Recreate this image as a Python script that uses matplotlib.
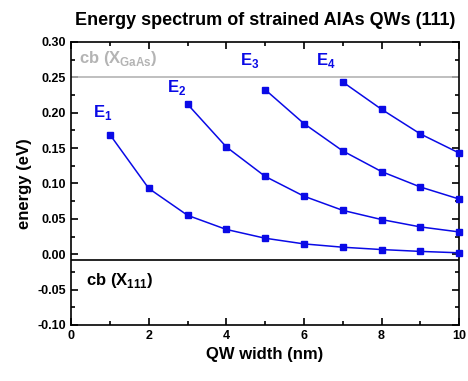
import matplotlib
matplotlib.use("Agg")
from matplotlib import pyplot as plt
from matplotlib.ticker import MultipleLocator

plt.rcParams['font.family'] = ['Liberation Sans', 'DejaVu Sans']
plt.rcParams['font.weight'] = 'bold'
plt.rcParams['mathtext.fontset'] = 'custom'
plt.rcParams['mathtext.rm'] = 'Liberation Sans:bold'
plt.rcParams['mathtext.bf'] = 'Liberation Sans:bold'

# energy levels vs well width
x1 = [1, 2, 3, 4, 5, 6, 7, 8, 9, 10]
e1 = [0.169, 0.093, 0.055, 0.035, 0.0226, 0.0146, 0.0099, 0.0066, 0.004, 0.002]
x2 = [3, 4, 5, 6, 7, 8, 9, 10]
e2 = [0.212, 0.1516, 0.110, 0.082, 0.062, 0.049, 0.0386, 0.0315]
x3 = [5, 6, 7, 8, 9, 10]
e3 = [0.2326, 0.1846, 0.146, 0.1168, 0.095, 0.078]
x4 = [7, 8, 9, 10]
e4 = [0.2434, 0.2048, 0.170, 0.143]

cb_gaas = 0.25
cb_111 = -0.0075

blue = '#0a0ae6'

fig = plt.figure(figsize=(4.68, 3.81), dpi=100)
ax = fig.add_axes([0.152, 0.147, 0.829, 0.743])

ax.axhline(cb_gaas, color='#b4b4b4', lw=1.2)
ax.axhline(cb_111, color='black', lw=1.2)

for xs, es in [(x1, e1), (x2, e2), (x3, e3), (x4, e4)]:
    ax.plot(xs, es, '-s', color=blue, lw=1.1, ms=5, clip_on=False, zorder=3)

ax.text(0.57, 0.20, r'E$_1$', color=blue, fontsize=12, va='center')
ax.text(2.47, 0.236, r'E$_2$', color=blue, fontsize=12, va='center')
ax.text(4.36, 0.274, r'E$_3$', color=blue, fontsize=12, va='center')
ax.text(6.31, 0.274, r'E$_4$', color=blue, fontsize=12, va='center')
ax.text(0.19, 0.277, r'cb (X$_{\mathrm{GaAs}}$)', color='#b4b4b4', fontsize=12, va='center')
ax.text(0.39, -0.037, r'cb (X$_{111}$)', color='black', fontsize=12, va='center')

ax.set_xlim(0, 10)
ax.set_ylim(-0.10, 0.30)
ax.xaxis.set_major_locator(MultipleLocator(2))
ax.xaxis.set_minor_locator(MultipleLocator(1))
ax.yaxis.set_major_locator(MultipleLocator(0.05))
ax.yaxis.set_minor_locator(MultipleLocator(0.025))
ax.yaxis.set_major_formatter(matplotlib.ticker.FormatStrFormatter('%.2f'))
ax.tick_params(which='both', direction='in', top=True, right=True, labelsize=9)
ax.tick_params(which='major', length=5, width=1.2)
ax.tick_params(which='minor', length=3, width=1.2)
for s in ax.spines.values():
    s.set_linewidth(1.2)

ax.set_xlabel('QW width (nm)', fontsize=12, fontweight='bold')
ax.set_ylabel('energy (eV)', fontsize=12, fontweight='bold')
ax.set_title('Energy spectrum of strained AlAs QWs (111)', fontsize=13, fontweight='bold', pad=12)

fig.savefig('out.png', dpi=100)
